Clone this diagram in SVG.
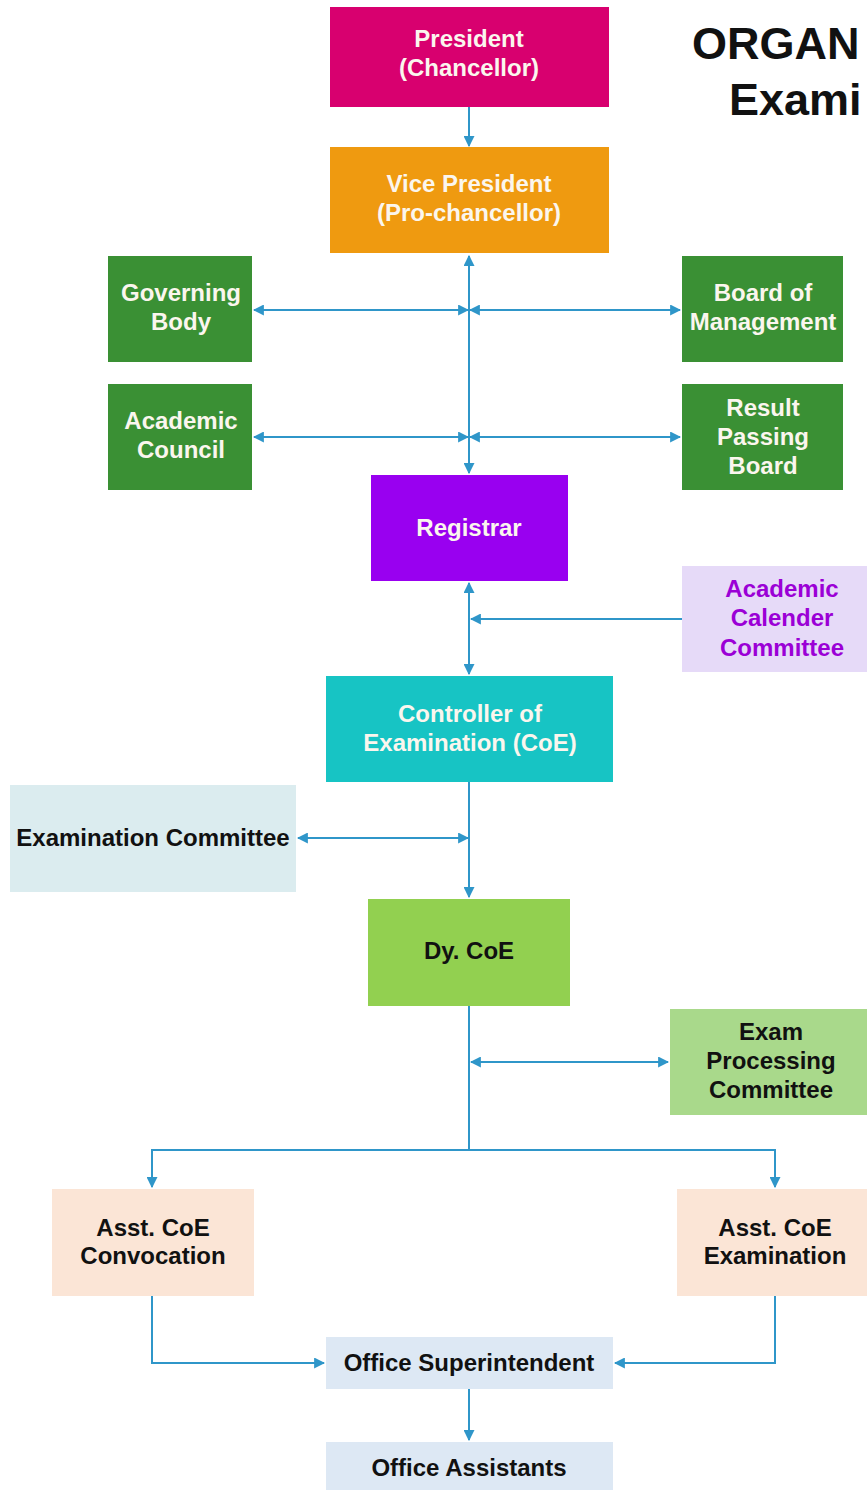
<svg xmlns="http://www.w3.org/2000/svg" width="867" height="1490" viewBox="0 0 867 1490">
<defs>
<style>
.t{font-family:"Liberation Sans",Arial,sans-serif;font-weight:bold;font-size:24px;text-anchor:middle}
.w{fill:#fbf6ee}
.k{fill:#111}
.c{stroke:#2f96c9;stroke-width:2;fill:none}
.title{font-family:"Liberation Sans",Arial,sans-serif;font-weight:bold;font-size:45px;fill:#111}
</style>
<marker id="ah" viewBox="0 0 10 10" refX="9" refY="5" markerWidth="11" markerHeight="11" markerUnits="userSpaceOnUse" orient="auto-start-reverse">
<path d="M0,0 L10,5 L0,10 z" fill="#2f96c9"/>
</marker>
</defs>
<rect width="867" height="1490" fill="#fff"/>
<text class="title" x="692" y="59">ORGAN</text>
<text class="title" x="729" y="115">Exami</text>

<g id="connectors">
<line class="c" x1="469" y1="107" x2="469" y2="146" marker-end="url(#ah)"/>
<line class="c" x1="469" y1="256" x2="469" y2="473" marker-start="url(#ah)" marker-end="url(#ah)"/>
<line class="c" x1="254" y1="310" x2="468" y2="310" marker-start="url(#ah)" marker-end="url(#ah)"/>
<line class="c" x1="470" y1="310" x2="680" y2="310" marker-start="url(#ah)" marker-end="url(#ah)"/>
<line class="c" x1="254" y1="437" x2="468" y2="437" marker-start="url(#ah)" marker-end="url(#ah)"/>
<line class="c" x1="470" y1="437" x2="680" y2="437" marker-start="url(#ah)" marker-end="url(#ah)"/>
<line class="c" x1="469" y1="583" x2="469" y2="674" marker-start="url(#ah)" marker-end="url(#ah)"/>
<line class="c" x1="682" y1="619" x2="471" y2="619" marker-end="url(#ah)"/>
<line class="c" x1="469" y1="782" x2="469" y2="897" marker-end="url(#ah)"/>
<line class="c" x1="298" y1="838" x2="468" y2="838" marker-start="url(#ah)" marker-end="url(#ah)"/>
<line class="c" x1="469" y1="1006" x2="469" y2="1150"/>
<line class="c" x1="471" y1="1062" x2="668" y2="1062" marker-start="url(#ah)" marker-end="url(#ah)"/>
<polyline class="c" points="152,1187 152,1150 775,1150 775,1187" marker-start="url(#ah)" marker-end="url(#ah)"/>
<polyline class="c" points="152,1296 152,1363 324,1363" marker-end="url(#ah)"/>
<polyline class="c" points="775,1296 775,1363 615,1363" marker-end="url(#ah)"/>
<line class="c" x1="469" y1="1389" x2="469" y2="1440" marker-end="url(#ah)"/>
</g>

<g id="president"><rect x="330" y="7" width="279" height="100" fill="#d8006f"/>
<text class="t w" x="469" y="47">President</text><text class="t w" x="469" y="76">(Chancellor)</text></g>
<g id="vice-president"><rect x="330" y="147" width="279" height="106" fill="#ef9a10"/>
<text class="t w" x="469" y="192">Vice President</text><text class="t w" x="469" y="221">(Pro-chancellor)</text></g>
<g id="governing-body"><rect x="108" y="256" width="144" height="106" fill="#3a9034"/>
<text class="t w" x="181" y="301">Governing</text><text class="t w" x="181" y="330">Body</text></g>
<g id="board-of-management"><rect x="682" y="256" width="161" height="106" fill="#3a9034"/>
<text class="t w" x="763" y="301">Board of</text><text class="t w" x="763" y="330">Management</text></g>
<g id="academic-council"><rect x="108" y="384" width="144" height="106" fill="#3a9034"/>
<text class="t w" x="181" y="429">Academic</text><text class="t w" x="181" y="458">Council</text></g>
<g id="result-passing-board"><rect x="682" y="384" width="161" height="106" fill="#3a9034"/>
<text class="t w" x="763" y="416">Result</text><text class="t w" x="763" y="445">Passing</text><text class="t w" x="763" y="474">Board</text></g>
<g id="registrar"><rect x="371" y="475" width="197" height="106" fill="#9900f0"/>
<text class="t w" x="469" y="536">Registrar</text></g>
<g id="academic-calender-committee"><rect x="682" y="566" width="185" height="106" fill="#e6daf8"/>
<text class="t" fill="#9b00d6" x="782" y="597">Academic</text><text class="t" fill="#9b00d6" x="782" y="626">Calender</text><text class="t" fill="#9b00d6" x="782" y="656">Committee</text></g>
<g id="coe"><rect x="326" y="676" width="287" height="106" fill="#17c4c4"/>
<text class="t w" x="470" y="722">Controller of</text><text class="t w" x="470" y="751">Examination (CoE)</text></g>
<g id="examination-committee"><rect x="10" y="785" width="286" height="107" fill="#dbecef"/>
<text class="t k" x="153" y="846">Examination Committee</text></g>
<g id="dy-coe"><rect x="368" y="899" width="202" height="107" fill="#92d050"/>
<text class="t k" x="469" y="959">Dy. CoE</text></g>
<g id="exam-processing-committee"><rect x="670" y="1009" width="197" height="106" fill="#a9d98b"/>
<text class="t k" x="771" y="1040">Exam</text><text class="t k" x="771" y="1069">Processing</text><text class="t k" x="771" y="1098">Committee</text></g>
<g id="asst-coe-convocation"><rect x="52" y="1189" width="202" height="107" fill="#fbe5d6"/>
<text class="t k" x="153" y="1236">Asst. CoE</text><text class="t k" x="153" y="1264">Convocation</text></g>
<g id="asst-coe-examination"><rect x="677" y="1189" width="190" height="107" fill="#fbe5d6"/>
<text class="t k" x="775" y="1236">Asst. CoE</text><text class="t k" x="775" y="1264">Examination</text></g>
<g id="office-superintendent"><rect x="326" y="1337" width="287" height="52" fill="#dde8f4"/>
<text class="t k" x="469" y="1371">Office Superintendent</text></g>
<g id="office-assistants"><rect x="326" y="1442" width="287" height="48" fill="#dde8f4"/>
<text class="t k" x="469" y="1476">Office Assistants</text></g>
</svg>
